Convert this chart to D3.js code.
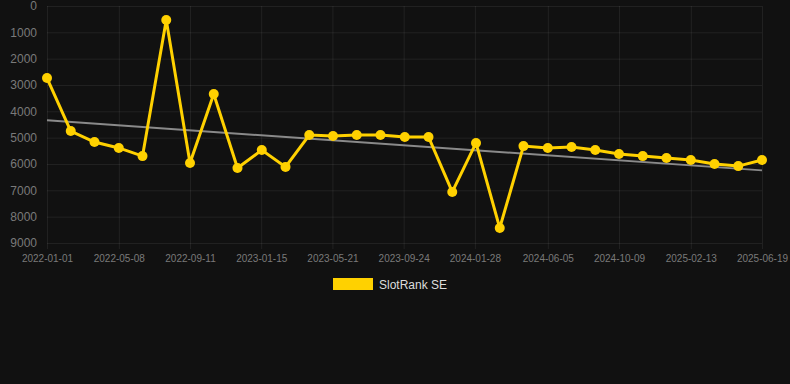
<!DOCTYPE html>
<html>
<head>
<meta charset="utf-8">
<script src="https://cdn.jsdelivr.net/npm/d3@7"></script>
<style>
  html, body { margin: 0; padding: 0; background: #111111; }
  svg { display: block; font-family: "Liberation Sans", Arial, sans-serif; }
</style>
</head>
<body>
<svg id="chart" width="790" height="384"></svg>
<script>
// data
var dates = ["2022-01-01", "2022-02-12", "2022-03-26", "2022-05-08", "2022-06-19", "2022-07-31",
  "2022-09-11", "2022-10-23", "2022-12-04", "2023-01-16", "2023-02-27", "2023-04-10",
  "2023-05-22", "2023-07-03", "2023-08-14", "2023-09-26", "2023-11-07", "2023-12-19",
  "2024-01-30", "2024-03-12", "2024-04-23", "2024-06-05", "2024-07-17", "2024-08-28",
  "2024-10-09", "2024-11-20", "2025-01-01", "2025-02-13", "2025-03-27", "2025-05-08", "2025-06-19"];
var ranks = [2735, 4750, 5165, 5390, 5700, 530, 5960, 3340, 6150, 5470, 6110, 4900,
  4940, 4900, 4900, 4975, 4975, 7060, 5200, 8430, 5320, 5390, 5355, 5470,
  5620, 5700, 5770, 5850, 6000, 6080, 5850];
var xTickLabels = ["2022-01-01", "2022-05-08", "2022-09-11", "2023-01-15", "2023-05-21", "2023-09-24",
  "2024-01-28", "2024-06-05", "2024-10-09", "2025-02-13", "2025-06-19"];
var yTicks = [0, 1000, 2000, 3000, 4000, 5000, 6000, 7000, 8000, 9000];
var seriesName = "SlotRank SE";

var parse = d3.timeParse("%Y-%m-%d");
var pts = dates.map(function (d, i) { return { x: parse(d), y: ranks[i] }; });

var svg = d3.select("#chart");
var padL = 47, padR = 762, padT = 6, padB = 243;

var x = d3.scaleTime()
  .domain([parse(dates[0]), parse(dates[dates.length - 1])])
  .range([padL, padR]);
var y = d3.scaleLinear().domain([0, 9000]).range([padT, padB]);

var grid = "rgba(255,255,255,0.07)";
var tickColor = "#7a7a7a";

// horizontal grid + y labels
var yAxis = svg.append("g")
  .attr("transform", "translate(" + padL + ",0)")
  .call(d3.axisLeft(y).tickValues(yTicks).tickSize(-(padR - padL)).tickPadding(10).tickFormat(d3.format("d")));
yAxis.select(".domain").remove();
yAxis.selectAll("line").attr("stroke", grid);
yAxis.selectAll("text").attr("fill", tickColor).style("font-size", "12px");

// vertical grid + x labels
var xTicks = xTickLabels.map(function (t) { return parse(t); });
var xAxis = svg.append("g")
  .attr("transform", "translate(0," + padB + ")")
  .call(d3.axisBottom(x).tickValues(xTicks).tickSize(-(padB - padT)).tickPadding(12)
    .tickFormat(function (d, i) { return xTickLabels[i]; }));
xAxis.select(".domain").remove();
xAxis.selectAll("line").attr("stroke", grid).attr("y2", -(padB - padT)).attr("y1", 6);
xAxis.selectAll("text").attr("fill", tickColor).style("font-size", "10px");

// trend line (least squares on the series)
var xs = pts.map(function (p) { return +p.x; });
var mx = d3.mean(xs), my = d3.mean(ranks);
var num = d3.sum(pts, function (p) { return (+p.x - mx) * (p.y - my); });
var den = d3.sum(xs, function (v) { return (v - mx) * (v - mx); });
var slope = num / den, icpt = my - slope * mx;
var trend = [xs[0], xs[xs.length - 1]].map(function (v) { return { x: new Date(v), y: icpt + slope * v }; });

var line = d3.line().x(function (d) { return x(d.x); }).y(function (d) { return y(d.y); });

svg.append("path")
  .datum(trend)
  .attr("d", line)
  .attr("fill", "none")
  .attr("stroke", "#8a8a8a")
  .attr("stroke-width", 2);

svg.append("path")
  .datum(pts)
  .attr("d", line)
  .attr("fill", "none")
  .attr("stroke", "#ffd100")
  .attr("stroke-width", 3);

svg.selectAll("circle.pt")
  .data(pts)
  .enter().append("circle")
  .attr("class", "pt")
  .attr("cx", function (d) { return x(d.x); })
  .attr("cy", function (d) { return y(d.y); })
  .attr("r", 5)
  .attr("fill", "#ffd100");

// legend
var lg = svg.append("g");
lg.append("rect").attr("x", 333).attr("y", 278).attr("width", 40).attr("height", 12).attr("fill", "#ffd100");
lg.append("text").attr("x", 379).attr("y", 289).text(seriesName)
  .attr("fill", "#dddddd").style("font-size", "12px");
</script>
</body>
</html>
